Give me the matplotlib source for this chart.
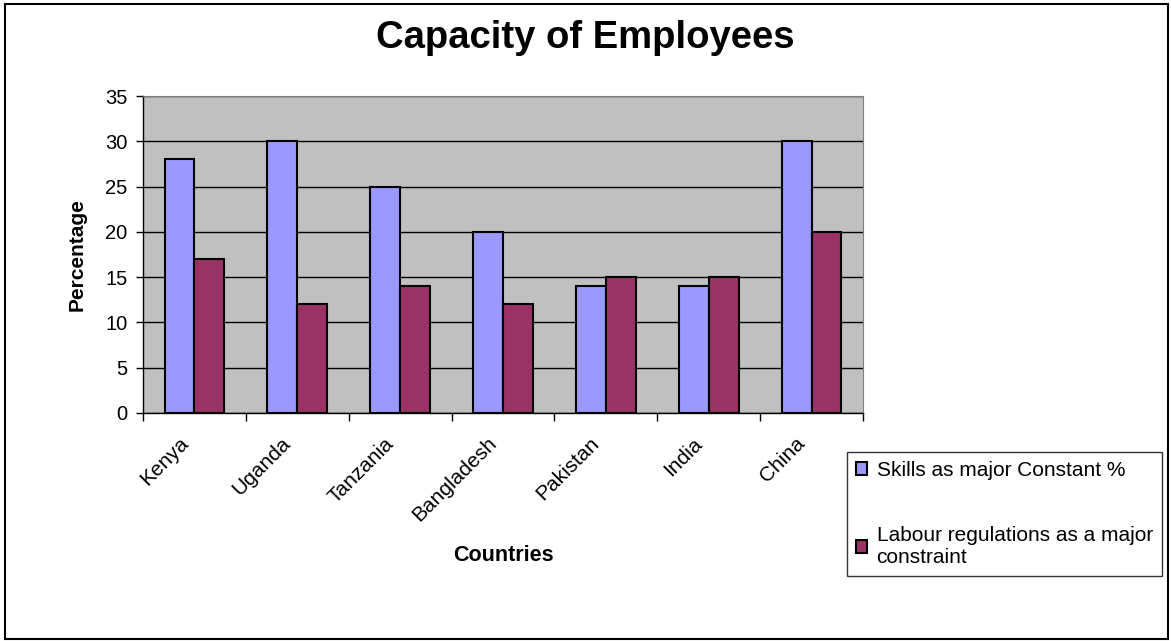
import numpy as np
import matplotlib.pyplot as plt
import matplotlib.transforms as mtransforms
from matplotlib.patches import Rectangle

plt.rcParams['font.family'] = ['Liberation Sans', 'DejaVu Sans']

countries = ["Kenya", "Uganda", "Tanzania", "Bangladesh", "Pakistan", "India", "China"]
skills = [28, 30, 25, 20, 14, 14, 30]
labour = [17, 12, 14, 12, 15, 15, 20]
series_names = ["Skills as major Constant %", "Labour regulations as a major\nconstraint"]

fig = plt.figure(figsize=(11.71, 6.41), dpi=100)
ax = fig.add_axes([143 / 1171, 1 - 413 / 641, 720 / 1171, 317 / 641])

x = np.arange(len(countries))
w = 0.29
ax.bar(x - w / 2, skills, w, color="#9999FF", edgecolor="black", linewidth=1.5, zorder=3, label=series_names[0])
ax.bar(x + w / 2, labour, w, color="#993366", edgecolor="black", linewidth=1.5, zorder=3, label=series_names[1])

ax.set_facecolor("#C0C0C0")
ax.set_xlim(-0.5, len(countries) - 0.5)
ax.set_ylim(0, 35)
ax.set_yticks(range(0, 36, 5))
ax.yaxis.grid(True, color="black", linewidth=1, zorder=1)
ax.set_axisbelow(True)

ax.set_xticks(x)
ax.set_xticklabels(countries, rotation=45, ha="right", rotation_mode="anchor", fontsize=15)
ax.tick_params(axis="x", length=0, pad=15)
# nudge rotated labels to the left, as in the original
shift = mtransforms.ScaledTranslation(-16 / 100, 0, fig.dpi_scale_trans)
for lab in ax.get_xticklabels():
    lab.set_transform(lab.get_transform() + shift)
ax.set_xticks(np.arange(-0.5, len(countries), 1), minor=True)
ax.tick_params(axis="x", which="minor", length=6, direction="out", width=1)
ax.tick_params(axis="y", labelsize=14.5, length=5, width=1, pad=6)

for s in ["top", "right"]:
    ax.spines[s].set_color("#808080")
ax.spines["left"].set_linewidth(1)
ax.spines["bottom"].set_linewidth(1)

ax.set_xlabel("Countries", fontsize=15.5, fontweight="bold")
ax.xaxis.set_label_coords(0.5, -0.416)
ax.set_ylabel("Percentage", fontsize=15, fontweight="bold")
ax.yaxis.set_label_coords(-0.078, 0.5)

fig.text(585 / 1171, 1 - 38 / 641, "Capacity of Employees", fontsize=27.5, fontweight="bold",
         ha="center", va="center")

leg = fig.legend(loc="upper left", bbox_to_anchor=(847 / 1171, 1 - 452 / 641), fontsize=15,
                 frameon=True, fancybox=False, edgecolor="black", labelspacing=2.2,
                 handlelength=0.55, handleheight=0.55, handletextpad=0.45, borderpad=0.42,
                 borderaxespad=0)
leg.get_frame().set_linewidth(1)
for t in leg.get_texts():
    t.set_linespacing(1.25)

fig.patches.append(Rectangle((5 / 1171, 2 / 641), 1163 / 1171, 635 / 641, transform=fig.transFigure,
                             fill=False, edgecolor="black", linewidth=1.5))

fig.savefig("out.png", dpi=100)
